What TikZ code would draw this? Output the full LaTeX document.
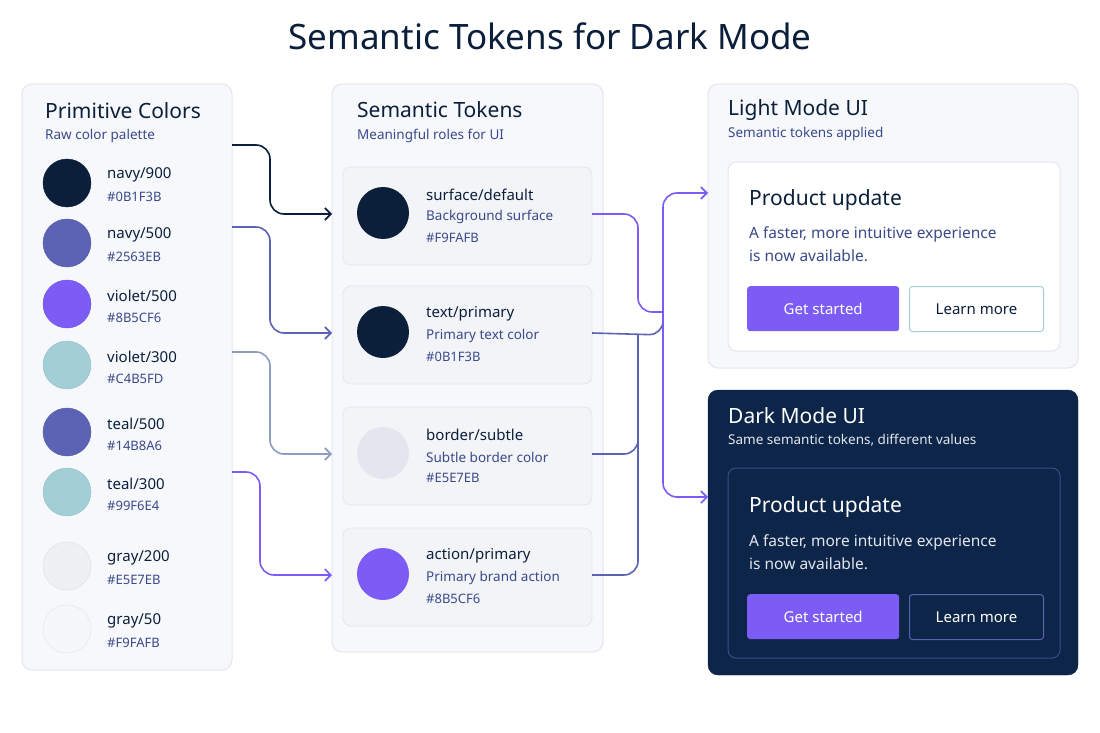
\documentclass[tikz,border=0pt]{standalone}
\usepackage{fontspec}
\setmainfont{Noto Sans}
\usetikzlibrary{arrows.meta}
\definecolor{navy}{HTML}{0B1F3B}
\definecolor{darkbg}{HTML}{0C2548}
\definecolor{indigo}{HTML}{5C63B5}
\definecolor{violet}{HTML}{7C5CF5}
\definecolor{teal}{HTML}{A2CFD6}
\definecolor{panel}{HTML}{F7F8FB}
\definecolor{edge}{HTML}{E3E6EE}
\definecolor{gtwo}{HTML}{EEF0F4}
\definecolor{gfifty}{HTML}{F6F7F9}
\definecolor{subtx}{HTML}{3A4A8A}
\definecolor{steel}{HTML}{8E9CC0}
\tikzset{
    panel/.style = {draw=edge, fill=panel, rounded corners=10pt, line width=1pt},
    card/.style = {draw=edge, fill=white, rounded corners=8pt, line width=1pt},
    tcard/.style = {draw=edge, fill=panel!80!edge, rounded corners=8pt, line width=0.8pt},
    swatch/.style = {circle, minimum size=48pt, inner sep=0pt},
    head/.style = {anchor=west, inner sep=0pt, font=\fontsize{21}{24}\selectfont\bfseries, text=navy},
    tname/.style = {anchor=west, inner sep=0pt, font=\fontsize{15}{18}\selectfont\bfseries, text=navy},
    tsmall/.style = {anchor=west, inner sep=0pt, font=\fontsize{13.5}{16}\selectfont, text=subtx},
    thex/.style = {anchor=west, inner sep=0pt, font=\fontsize{13}{15}\selectfont, text=subtx},
    wire/.style = {line width=1.6pt, rounded corners=14pt},
    arr/.style = {wire, -{Straight Barb[length=6pt,width=12pt]}},
    btn/.style = {minimum width=152pt, minimum height=45pt, inner sep=0pt, rounded corners=3pt, font=\fontsize{15}{18}\selectfont, anchor=north west},
}
\begin{document}
\begin{tikzpicture}[x=1pt,y=-1pt]
    \useasboundingbox[fill=white] (0,0) rectangle (1100,733);
    \node[font=\fontsize{35}{40}\selectfont\bfseries, text=navy] (title) at (550,36) {Semantic Tokens for Dark Mode};

    % primitive colours
    \draw[panel] (22,84) rectangle (232,670);
    \node[head] (primhead) at (45,111) {Primitive Colors};
    \node[tsmall] (primsub) at (45,136) {Raw color palette};
    \foreach \y/\c/\n/\h [count=\i] in {183/navy/navy\slash900/\#0B1F3B, 243/indigo/navy\slash500/\#2563EB,
        304/violet/violet\slash500/\#8B5CF6, 365/teal/violet\slash300/\#C4B5FD, 432/indigo/teal\slash500/\#14B8A6,
        492/teal/teal\slash300/\#99F6E4, 566/gtwo/gray\slash200/\#E5E7EB, 629/gfifty/gray\slash50/\#F9FAFB} {
        \node[swatch, fill=\c, draw=\c!92!black] (sw\i) at (67,\y) {};
        \node[tname] (swn\i) at (107,\y-8) {\n};
        \node[thex] (swh\i) at (107,\y+14) {\h};
    }

    % semantic tokens
    \draw[panel] (332,84) rectangle (603,652);
    \node[head] (semhead) at (357,110) {Semantic Tokens};
    \node[tsmall] (semsub) at (357,136) {Meaningful roles for UI};
    \foreach \y/\c/\n/\d/\h [count=\i] in {167/navy/surface\slash default/Background surface/\#F9FAFB,
        286/navy/text\slash primary/Primary text color/\#0B1F3B, 407/edge/border\slash subtle/Subtle border color/\#E5E7EB,
        528/violet/action\slash primary/Primary brand action/\#8B5CF6} {
        \draw[tcard] (343,\y) rectangle (592,\y+98);
        \node[swatch, minimum size=52pt, fill=\c] (tok\i) at (383,\y+46) {};
        \node[tname] (tokn\i) at (426,\y+28) {\n};
        \node[tsmall] (tokd\i) at (426,\y+50) {\d};
        \node[thex] (tokh\i) at (426,\y+71) {\h};
        \coordinate (tin\i) at (332,\y+47);
        \coordinate (tout\i) at (592,\y+47);
    }

    % light mode
    \draw[panel] (708,84) rectangle (1078,368);
    \node[head] (lighthead) at (728,110) {Light Mode UI};
    \node[tsmall] (lightsub) at (728,134) {Semantic tokens applied};
    \draw[card] (728,162) rectangle (1060,351);
    \node[head] (lprod) at (749,200) {Product update};
    \node[tsmall, font=\fontsize{15.5}{18}\selectfont] (ltxt1) at (749,234) {A faster, more intuitive experience};
    \node[tsmall, font=\fontsize{15.5}{18}\selectfont] (ltxt2) at (749,256) {is now available.};
    \node[btn, fill=violet, text=white] (lgo) at (747,286) {Get started};
    \node[btn, minimum width=134pt, draw=teal, fill=white, text=navy, line width=1pt] (lmore) at (909,286) {Learn more};

    % dark mode
    \draw[rounded corners=10pt, fill=darkbg, draw=darkbg] (708,390) rectangle (1078,675);
    \node[head, text=white] (darkhead) at (728,416) {Dark Mode UI};
    \node[tsmall, text=edge] (darksub) at (728,440) {Same semantic tokens, different values};
    \draw[rounded corners=8pt, draw=indigo!60!darkbg, line width=1pt] (728,468) rectangle (1060,658);
    \node[head, text=white] (dprod) at (749,507) {Product update};
    \node[tsmall, text=edge, font=\fontsize{15.5}{18}\selectfont] (dtxt1) at (749,542) {A faster, more intuitive experience};
    \node[tsmall, text=edge, font=\fontsize{15.5}{18}\selectfont] (dtxt2) at (749,564) {is now available.};
    \node[btn, fill=violet, text=white] (dgo) at (747,594) {Get started};
    \node[btn, minimum width=134pt, draw=indigo, text=white, line width=1pt] (dmore) at (909,594) {Learn more};

    % connectors
    \coordinate (p1) at (232,145);
    \coordinate (p2) at (232,227);
    \coordinate (p3) at (232,352);
    \coordinate (p4) at (232,472);
    \draw[arr, navy] (p1) -| (270,180) |- (tin1);
    \draw[arr, indigo] (p2) -| (270,280) |- (tin2);
    \draw[arr, steel] (p3) -| (270,400) |- (tin3);
    \draw[arr, violet] (p4) -| (260,520) |- (tin4);
    \coordinate (lin) at (708,193);
    \coordinate (din) at (708,497);
    \draw[wire, violet] (tout1) -| (638,312) -- (663,312);
    \draw[wire, indigo] (tout2) -- (663,335) -- (663,320);
    \draw[wire, indigo] (tout3) -| (638,335);
    \draw[wire, indigo] (tout4) -| (638,335);
    \draw[arr, violet] (663,330) |- (lin);
    \draw[arr, violet] (663,320) |- (din);
\end{tikzpicture}
\end{document}
